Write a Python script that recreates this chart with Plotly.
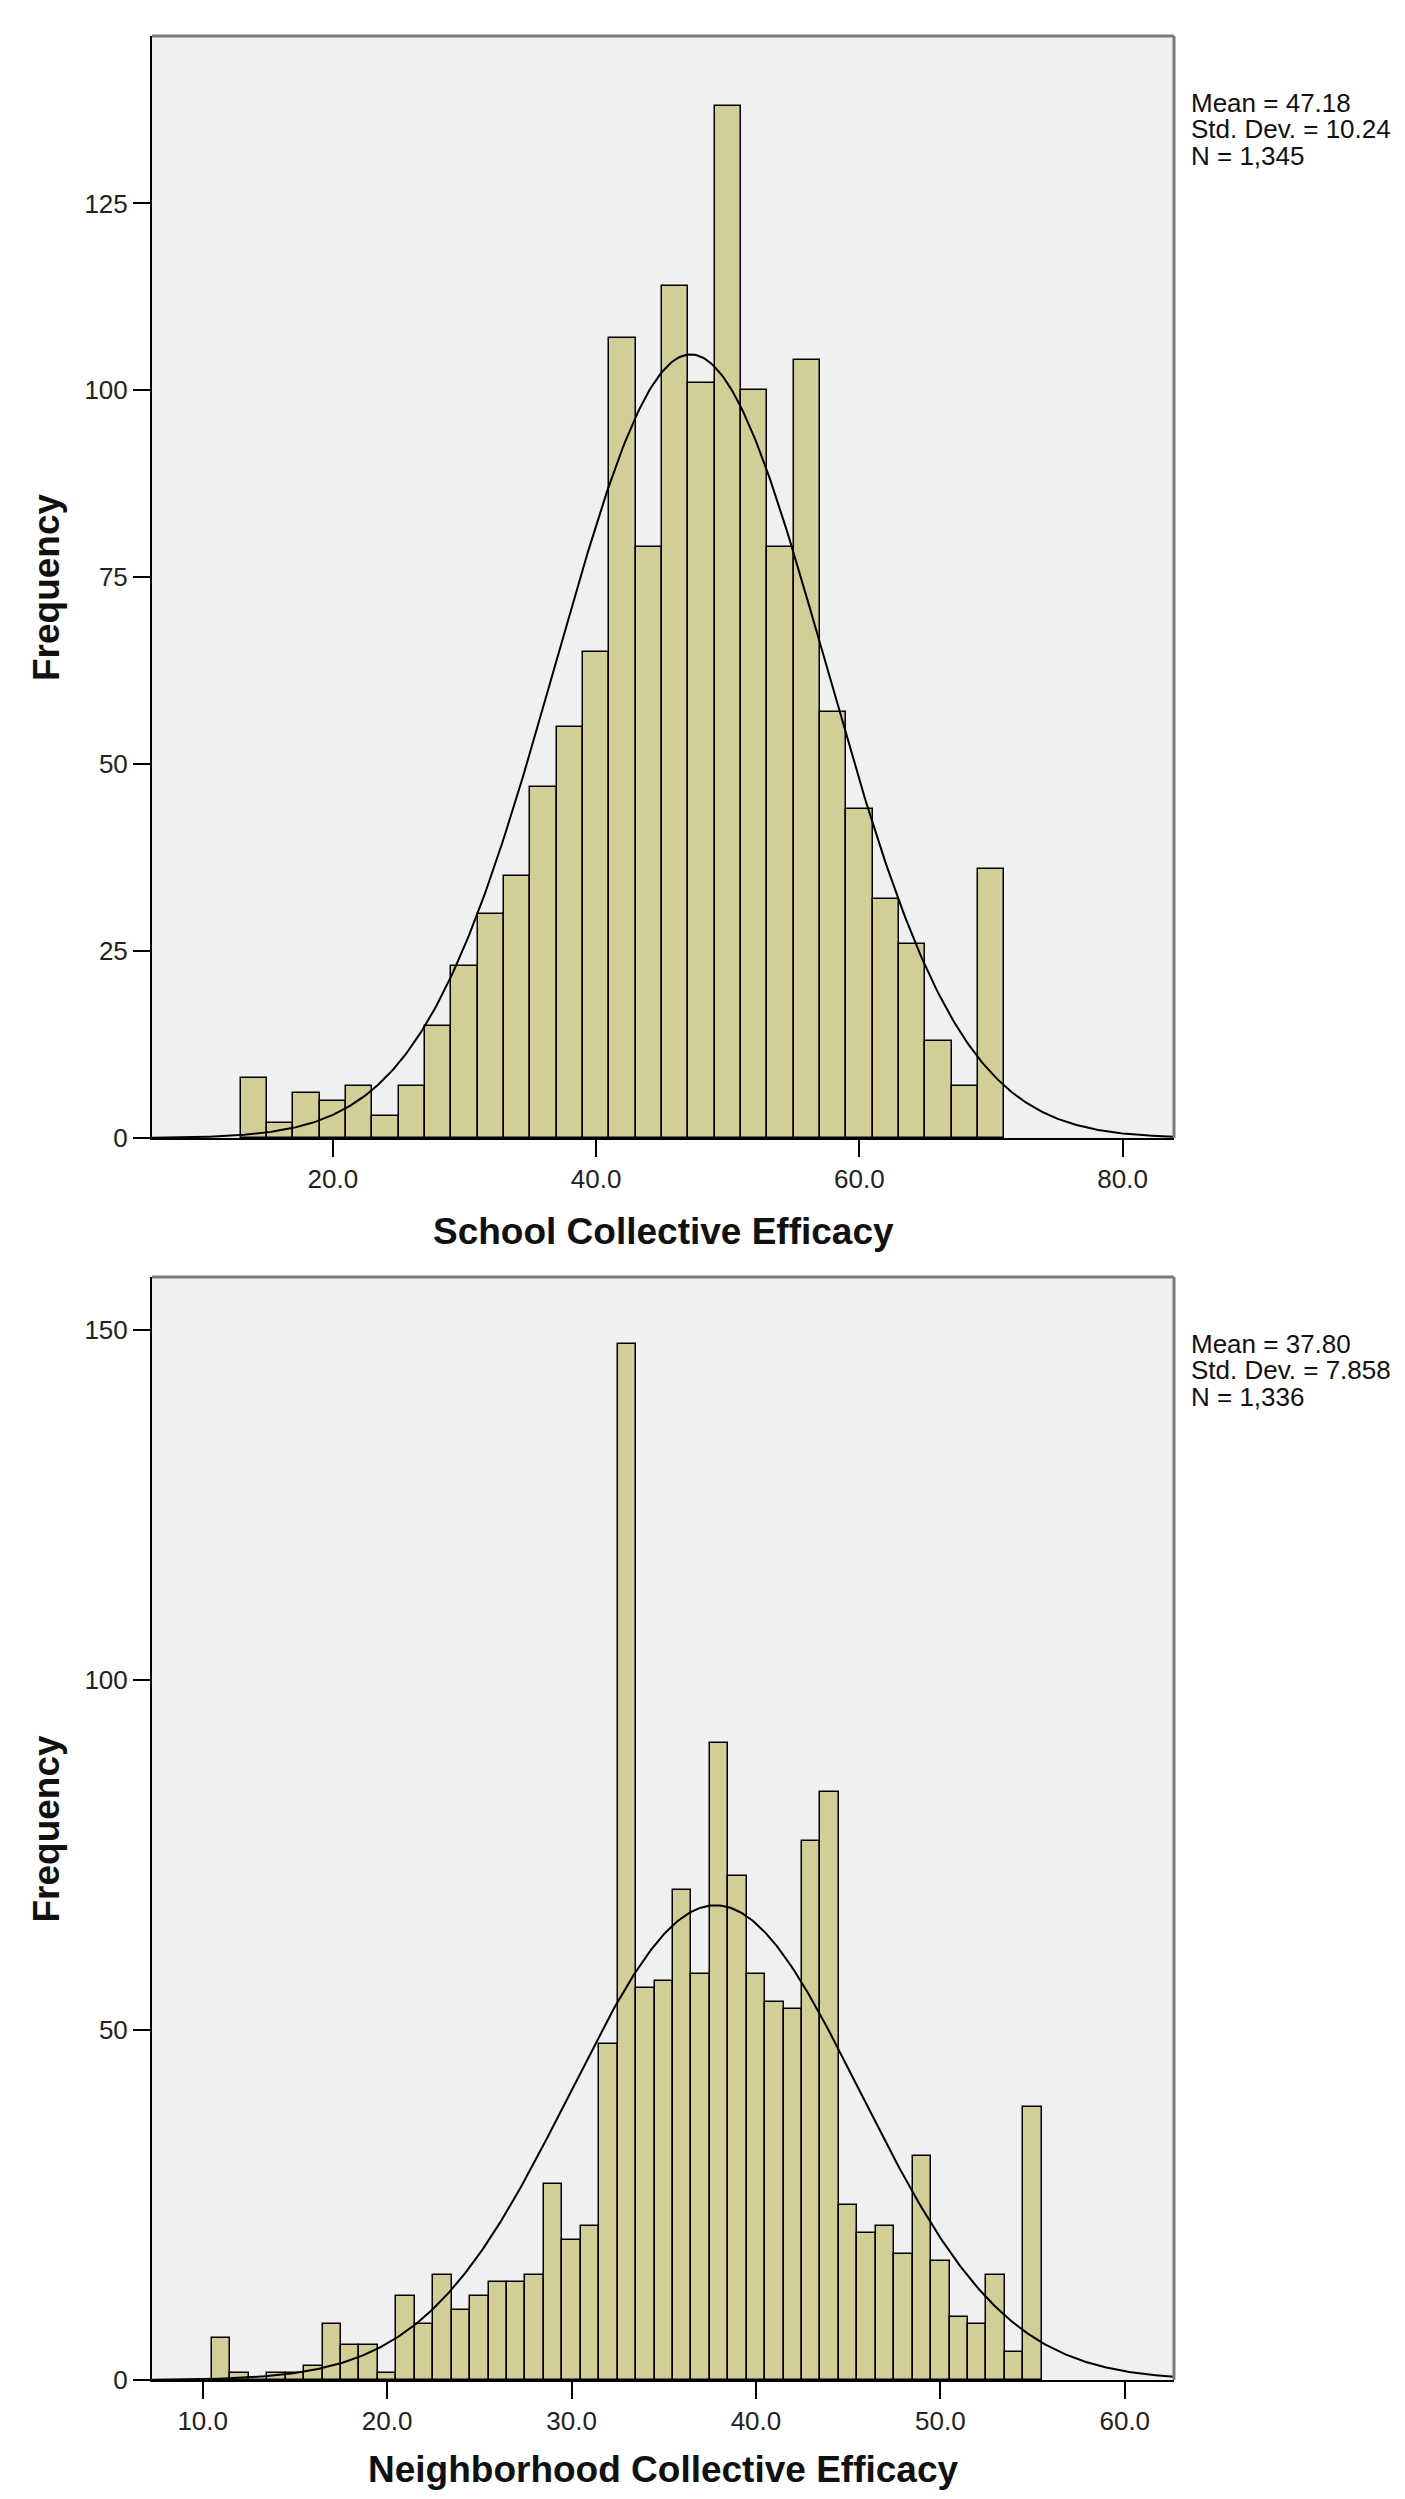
import numpy as np
import plotly.graph_objects as go

PAGE_W, PAGE_H = 1405, 2499
OFF = 8  # default body margin of the html page
W, H = PAGE_W - 2 * OFF, PAGE_H - 2 * OFF

# ---- Data: School Collective Efficacy (bin width 2) ----
school_centers = [14, 16, 18, 20, 22, 24, 26, 28, 30, 32, 34, 36, 38, 40, 42,
                  44, 46, 48, 50, 52, 54, 56, 58, 60, 62, 64, 66, 68, 70]
school_counts = [8, 2, 6, 5, 7, 3, 7, 15, 23, 30, 35, 47, 55, 65, 107,
                 79, 114, 101, 138, 100, 79, 104, 57, 44, 32, 26, 13, 7, 36]
school_binwidth = 2.0
school_mean, school_sd, school_n = 47.18, 10.24, 1345
school_stats = ["Mean = 47.18", "Std. Dev. = 10.24", "N = 1,345"]
school_xticks = [20, 40, 60, 80]
school_xticktext = ["20.0", "40.0", "60.0", "80.0"]
school_yticks = [0, 25, 50, 75, 100, 125]

# ---- Data: Neighborhood Collective Efficacy (bin width 1) ----
nbhd_centers = list(range(11, 56))
nbhd_counts = [6, 1, 0, 1, 1, 2, 8, 5, 5, 1, 12, 8, 15, 10, 12, 14, 14, 15, 28, 20,
               22, 48, 148, 56, 57, 70, 58, 91, 72, 58, 54, 53, 77, 84, 25, 21, 22, 18,
               32, 17, 9, 8, 15, 4, 39]
nbhd_binwidth = 1.0
nbhd_mean, nbhd_sd, nbhd_n = 37.80, 7.858, 1336
nbhd_stats = ["Mean = 37.80", "Std. Dev. = 7.858", "N = 1,336"]
nbhd_xticks = [10, 20, 30, 40, 50, 60]
nbhd_xticktext = ["10.0", "20.0", "30.0", "40.0", "50.0", "60.0"]
nbhd_yticks = [0, 50, 100, 150]

BAR = "#D3CE97"
BG = "#F0F0F0"
FONT = "Liberation Sans, Arial, sans-serif"

# pixel geometry (page coordinates)
L, R = 152, 1174
T1, B1 = 36, 1138
T2, B2 = 1277, 2380


def px(v):
    return (v - OFF) / W


def py(v):
    return 1 - (v - OFF) / H


def normal_curve(mean, sd, n, bw, lo, hi):
    xs = np.linspace(lo, hi, 500)
    ys = n * bw / (sd * np.sqrt(2 * np.pi)) * np.exp(-0.5 * ((xs - mean) / sd) ** 2)
    return xs, ys


fig = go.Figure()

x1r = [6.26, 83.9]
x2r = [7.25, 62.67]

fig.add_trace(go.Bar(x=school_centers, y=school_counts, width=school_binwidth,
                     marker=dict(color=BAR, line=dict(color="#000000", width=1.5)),
                     xaxis="x", yaxis="y", showlegend=False))
cx, cy = normal_curve(school_mean, school_sd, school_n, school_binwidth, x1r[0], x1r[1])
fig.add_trace(go.Scatter(x=cx, y=cy, mode="lines", line=dict(color="#000000", width=2),
                         xaxis="x", yaxis="y", showlegend=False))

fig.add_trace(go.Bar(x=nbhd_centers, y=nbhd_counts, width=nbhd_binwidth,
                     marker=dict(color=BAR, line=dict(color="#000000", width=1.5)),
                     xaxis="x2", yaxis="y2", showlegend=False))
cx2, cy2 = normal_curve(nbhd_mean, nbhd_sd, nbhd_n, nbhd_binwidth, x2r[0], x2r[1])
fig.add_trace(go.Scatter(x=cx2, y=cy2, mode="lines", line=dict(color="#000000", width=2),
                         xaxis="x2", yaxis="y2", showlegend=False))

axis_common = dict(showgrid=False, zeroline=False, showline=True, linecolor="#000000",
                   linewidth=2, ticks="outside", ticklen=17, tickwidth=2, tickcolor="#000000",
                   automargin=False,
                   tickfont=dict(family=FONT, size=26, color="#222222"), fixedrange=True)

fig.update_layout(
    template="none",
    width=W, height=H, autosize=False,
    margin=dict(l=0, r=0, t=0, b=0, pad=0),
    paper_bgcolor="#FFFFFF", plot_bgcolor=BG,
    bargap=0,
    xaxis=dict(domain=[px(L), px(R)], range=x1r, anchor="y",
               tickvals=school_xticks, ticktext=school_xticktext, **axis_common),
    yaxis=dict(domain=[py(B1), py(T1)], range=[0, 147.4], anchor="x",
               tickvals=school_yticks, **axis_common),
    xaxis2=dict(domain=[px(L), px(R)], range=x2r, anchor="y2",
                tickvals=nbhd_xticks, ticktext=nbhd_xticktext, **axis_common),
    yaxis2=dict(domain=[py(B2), py(T2)], range=[0, 157.6], anchor="x2",
                tickvals=nbhd_yticks, **axis_common),
)

shapes = []
for xd, yd in (("x domain", "y domain"), ("x2 domain", "y2 domain")):
    shapes.append(dict(type="line", xref=xd, yref=yd, x0=0, x1=1, y0=1, y1=1,
                       line=dict(color="#7a7a7a", width=3)))
    shapes.append(dict(type="line", xref=xd, yref=yd, x0=1, x1=1, y0=0, y1=1,
                       line=dict(color="#7a7a7a", width=3)))
fig.update_layout(shapes=shapes)

annotations = []
for stats, top in ((school_stats, T1), (nbhd_stats, T2)):
    for i, s in enumerate(stats):
        annotations.append(dict(text=s, xref="paper", yref="paper", x=px(1189),
                                y=py(top + 67 + 26.3 * i), xanchor="left", yanchor="middle",
                                showarrow=False,
                                font=dict(family=FONT, size=26, color="#111111")))

for label, ycen in (("School Collective Efficacy", 1231), ("Neighborhood Collective Efficacy", 2469)):
    annotations.append(dict(text="<b>" + label + "</b>", xref="paper", yref="paper",
                            x=px((L + R) / 2), y=py(ycen), xanchor="center", yanchor="middle",
                            showarrow=False, font=dict(family=FONT, size=37, color="#111111")))

for ycen in ((T1 + B1) / 2, (T2 + B2) / 2):
    annotations.append(dict(text="<b>Frequency</b>", xref="paper", yref="paper",
                            x=px(46), y=py(ycen), xanchor="center", yanchor="middle",
                            textangle=-90, showarrow=False,
                            font=dict(family=FONT, size=37, color="#111111")))

fig.update_layout(annotations=annotations)

fig.write_html("out.html")
